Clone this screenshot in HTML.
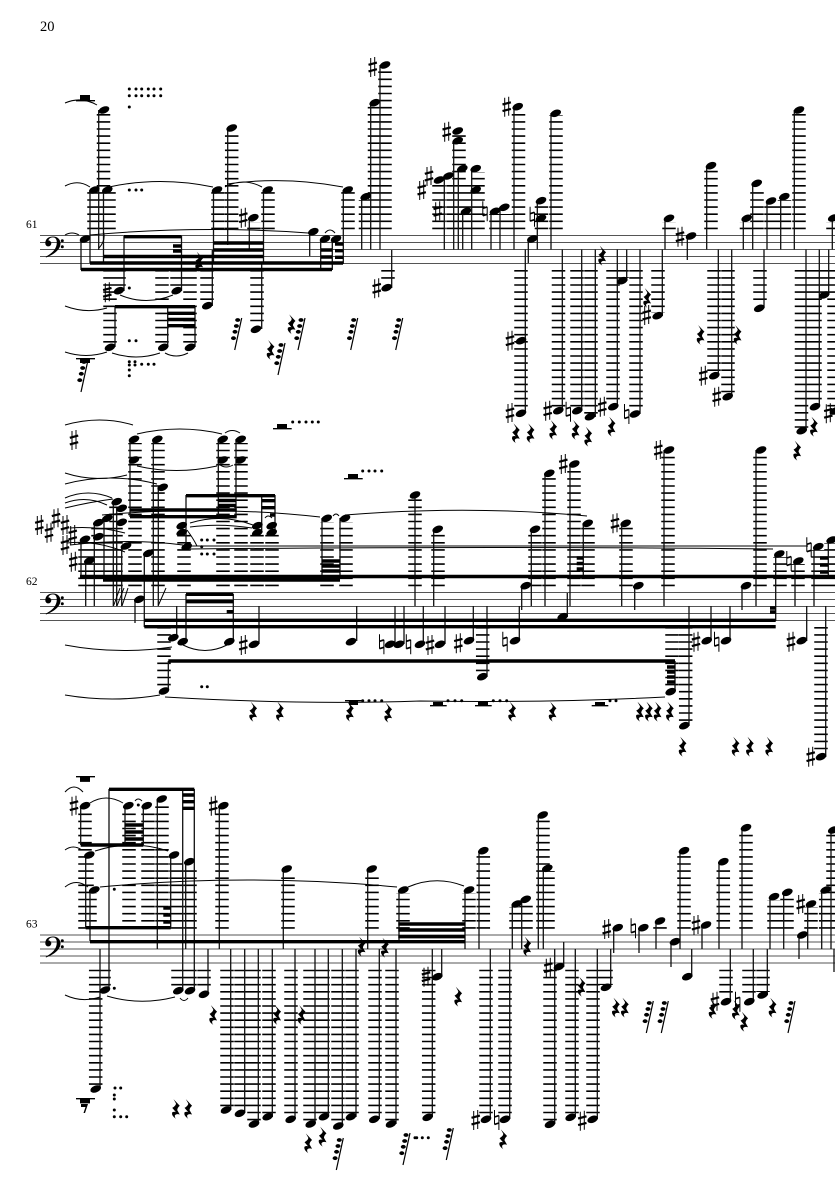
<!DOCTYPE html>
<html><head><meta charset="utf-8"><style>
html,body{margin:0;padding:0;background:#fff}
svg{display:block}
.st{stroke:#555;stroke-width:1;fill:none}
.l{stroke:#000;stroke-width:13.5;stroke-dasharray:1.6 5.5;fill:none}
.s{stroke:#111;stroke-width:1.3;fill:none}
.b{stroke:#000;stroke-width:3.4;fill:none}
.t{stroke:#000;stroke-width:1;fill:none}
text{font-family:"Liberation Serif",serif;fill:#000}
</style></head><body>
<svg xmlns="http://www.w3.org/2000/svg" width="835" height="1181" viewBox="0 0 835 1181">
<defs>
<ellipse id="h" rx="5.6" ry="3.4" transform="rotate(-22)"/>
<g id="sh"><path d="M-2-9V10M2-10V9" stroke="#000" stroke-width="1"/><path d="M-4.200-2.200L4.200-4.400M-4.200 4.400L4.200 2.200" stroke="#000" stroke-width="2.200"/></g>
<g id="na"><path d="M-2.200-10V4.500M2.200-4.500V10" stroke="#000" stroke-width="1"/><path d="M-2.200-3L2.200-4.400M-2.200 4.400L2.200 3" stroke="#000" stroke-width="1.700"/></g>
<path id="r" transform="scale(1.25 1.1)" d="M-2-9L3-3Q1-1 1 1L3 5Q0 4-1 6Q-1 8 0 9Q-4 6-3 3Q-1 2 0 3L-3-1Q0-3 0-5Z"/>
<g id="k"><path d="M-2 17L5-15" stroke="#000" stroke-width="1.200"/><ellipse cx="1" cy="-13" rx="2.500" ry="1.900"/><ellipse cx="-.3" cy="-7" rx="2.500" ry="1.900"/><ellipse cx="-1.700" cy="-1.200" rx="2.500" ry="1.900"/><ellipse cx="-3.200" cy="5.200" rx="2.500" ry="1.900"/></g>
<g id="c"><path d="M.3 8.300C.3 3.500 4 1.500 8 1.500C12.500 1.500 15.500 4.500 15.500 8.500C15.500 14.500 9 19.500 1 22.500L.7 21.700C7 18.500 11.800 14 11.800 7.500C11.800 4 10.300 2.400 7.800 2.400C5.500 2.400 3.800 3.800 3.400 5.400A3 3 0 1 1 .3 8.300Z"/><circle cx="17.300" cy="5.700" r="1.500"/><circle cx="17.300" cy="11.700" r="1.500"/></g>
</defs>

<text x="40" y="31" font-size="14.5">20</text>
<text x="26" y="228" font-size="11.5">61</text>
<text x="26" y="585" font-size="11.5">62</text>
<text x="26" y="927.5" font-size="11.5">63</text>

<path class="st" d="M40 235.5H835M40 242.5H835M40 249.5H835M40 256.5H835M40 263.5H835M40 592.5H835M40 599.5H835M40 606.5H835M40 613.5H835M40 620.5H835M40 935H835M40 942H835M40 949H835M40 956H835M40 963H835"/>
<use href="#c" x="45" y="235"/><use href="#c" x="45" y="592"/><use href="#c" x="45" y="935"/>

<!-- ledgers system 1 -->
<path class="l" d="M103.5 229.2V112M94 229.2V192M109 229.2V192M218 229.2V192M231.7 229.2V132M268 229.2V192M348 229.2V192M365.5 229.2V200M374.5 229.2V106M385 229.2V70M254 229.2V222
M119 270V288M110 270V345M162 270V345M177 270V288M190 270V345M207 270V302M257 270V325M388 270V284
M439 229.2V183M453 229.2V183M466 229.2V183M478 229.2V172M459 229.2V135M496 229.2V214M506 229.2V214M518.5 229.2V110M556 229.2V115M541.5 229.2V205M669 229.2V222M711 229.2V168M746.5 229.2V222M757 229.2V187M771 229.2V204M784.5 229.2V200M799 229.2V113M833 229.2V222
M521 270V411M558.5 270V408M577 270V408M591 270V414M613 270V404M622 270V278M636 270V411M658 270V313M714 270V373M728 270V394M760 270V305M801.5 270V428M815 270V404M824 270V293M834 270V410"/>
<!-- ledgers system 2 -->
<path class="l" d="M85 586.2V541M98 586.2V526M111 586.2V526M116 586.2V506M135 586.2V443M158 586.2V443M184 586.2V530M223 586.2V443M241 586.2V443M257 586.2V530M272 586.2V530M327 586.2V522M346 586.2V522M415 586.2V498M438 586.2V532M535 586.2V532M549 586.2V476M574 586.2V467M588 586.2V526M626 586.2V526M668 586.2V453M760 586.2V453M780 586.2V557M798 586.2V564M818 586.2V550M831 586.2V543
M164 627V688M482.7 627V673M672 627V688M685.7 627V723M821 627V753"/>
<!-- ledgers system 3 -->
<path class="l" d="M87 928.7V860M90 928.7V893M85 928.7V809M129 928.7V809M148 928.7V809M162 928.7V802M176 928.7V858M190 928.7V865M222 928.7V809M288 928.7V872M372 928.7V872M403 928.7V893M469 928.7V893M483.3 928.7V854M516 928.7V907M526 928.7V903M543 928.7V818M548 928.7V871M660 928.7V924M684 928.7V854M723.3 928.7V865M746 928.7V831M774 928.7V900M787 928.7V896M811 928.7V907M825.7 928.7V893M833 928.7V833
M104 969.7V988M95.7 969.7V1086M178 969.7V988M190 969.7V988M204 969.7V991M227 969.7V1107M241 969.7V1110M254 969.7V1121M269 969.7V1114M291 969.7V1116M310 969.7V1121M323 969.7V1114M338 969.7V1123M352 969.7V1114M375 969.7V1116M392 969.7V1121M428.7 969.7V1114M486 969.7V1116M505 969.7V1116M550 969.7V1121M572 969.7V1114M593 969.7V1116M606 969.7V985M726 969.7V998M749 969.7V998M763 969.7V992"/>

<!-- stems -->
<path class="s" d="M98.7 110V250M90 190V263M103.5 190V263M213.5 190V262M227.7 128V245M263.5 190V262M343.3 190V264M361.7 197V249.5M370.7 103V249.5M380 65V249.5M81 239V270M309.7 232V256M320.7 239V270M332.3 239V270M249.3 218V250M124 236V291M181.5 236V291M115 307V347M167.7 307V347M195 307V347M212.3 250V306M261.7 262V329M391.7 250V288
M444.3 178V249.5M453.7 140V249.5M458.3 169V249.5M462.7 211V249.5M471.7 169V249.5M491 211V249.5M500 207V249.5M514 107V249.5M537.3 201V249.5M551 113V249.5M528.3 239V263M525.3 249.5V413M562.3 249.5V411M581.7 249.5V411M595.3 249.5V417M617.3 249.5V407M626.7 249.5V281M640 249.5V414M662.3 249.5V316M665 218V249.5M687.3 236V260M706.7 166V249.5M743.3 218V249.5M752.7 183V249.5M767 201V249.5M780.7 197V249.5M794.3 110V249.5M832.3 218V249.5M718.3 249.5V376M731.7 249.5V397M764 249.5V308M806 249.5V431M819.3 249.5V407M828.7 249.5V295
M130 439V517M153.3 439V606M158.3 487V606M218.3 439V517M236 439V517M186 495V546M275 495V530M261.7 495V530M81 539V577M85.7 560V606M94.3 522V606M104 518V577M113.3 501V606M116.7 508V606M121.7 546V606M135 599V623M144.3 553V627M176.7 606V637M186 594V641M233.3 594V641M259 606V644M356.7 606V641M395 606V644M404 606V644M168.3 661V690M675 661V690M322 518V577M340 518V577M415 495V606
M433.7 529V606M531.3 529V606M545 473V606M570 464V606M583.3 523V576M621.7 523V606M664 450V606M756 450V606M775.7 554V621M795 561V606M814 547V606M828.3 540V577M521.7 586V610M567.3 593V617M634.7 586V610M742 586V610M423.3 606V644M445 606V644M473.3 606V641M487 606V677M519.3 606V641M711 606V641M730 606V641M806.7 606V641M825.7 606V757M689 606V726
M80.7 806V845M125 806V845M143.3 806V845M157.3 799V949M109 789V990M182.7 789V991M194.3 789V991M85.7 855V927M170.7 855V927M185.7 862V949M90 890V941M283.3 869V949M367.7 869V949M399 890V941M219.3 806V949M100 949V1089M208 949V994M230.7 949V1110M244.7 949V1113M258.3 949V1124M272.3 949V1117M295 949V1119M315 949V1124M328.3 949V1117M342.3 949V1126M356 949V1117M379.3 949V1119M396 949V1124
M465 890V949M479 851V949M512.3 904V949M521.7 899V949M538.3 815V949M543.3 868V949M563.7 942V967M554.7 949V1124M441.7 949V977M432.3 949V1117M490.3 949V1119M509.7 949V1119M575.3 949V1117M597.3 949V1119M610.7 949V987M613.7 928V953M639 928V953M656 921V949M671 942V967M680 851V949M702 925V949M719 862V949M742 828V949M770 897V949M783.7 892V949M807.7 904V949M799 935V959M821.7 890V949M831 830V949M691.7 949V977M730.3 949V1002M753.3 949V1002M767.3 949V995M834 949V972"/>

<!-- beams -->
<path class="b" d="M81 269.5H332M90 263H343M103.5 256.5H263.5M124 236.7H181.5M173 246H181.5M173 251H181.5M115 306.7H195M167.7 313.3H195M167.7 319.5H195M167.7 325.7H195M213.5 243H263.5M213.5 250H263.5M335 244H343M335 250.7H343M335 257.3H343M321 250H332M321 257H332M321 263H332
M130 516.7H236.7M130 510H236.7M218 495.5H236M218 500.5H236M218 505.5H236M186 495.7H275M261.7 500.7H275M261.7 507.7H275M270 515H275M80 576.5H835M103 580H340M321.7 561H340M321.7 566H340M321.7 571H340M144.3 620.3H775.7M144.3 626.7H775.7M186 594.3H233.3M186 601.7H233.3M226.7 611.7H233.3M168.3 661H675M667 667H675M667 672H675M667 677H675M667 682H675M576.7 558H583.3M576.7 563.5H583.3M576.7 569H583.3M770 612H775.7M770 608H775.7M820 558H828M820 565H828M820 572H828
M125 825H143.3M125 832H143.3M125 839H143.3M80.7 845H143.3M109 789.3H194.3M182.7 795H194.3M182.7 801.7H194.3M182.7 808.3H194.3M85.7 927.7H170.7M163.3 908H170.7M163.3 915H170.7M163.3 922H170.7M90 941.7H465M398.3 924H465M398.3 930H465M398.3 936.7H465"/>

<!-- slurs -->
<path class="t" d="M65 103Q81 96 97 105M65 186Q78 179 90 187M109 187Q160 176 213 187M225 187Q243 177 262 187M227 184Q285 176 343 187M65 235Q72 231 79 235M90 235Q200 225 308 233M325 233Q330 227 335 233M120 295Q146 306 173 295M65 306Q86 314 107 308M112 353Q136 361 160 353M165 353Q176 359 188 353M65 352Q86 359 107 352
M65 425Q100 415 133 425M137 434Q180 424 222 434M225 433Q232 428 240 433M137 466Q176 475 217 466M220 465Q226 469 233 465M65 473Q96 483 127 475M65 484Q110 472 157 484M65 498Q88 488 112 498M65 503Q86 495 107 505M65 508Q90 502 113 499M102 515Q210 505 320 517M345 515Q470 505 587 516M70 528Q98 526 125 533M67 543Q95 540 125 552M70 545Q130 538 183 545M190 523Q222 513 253 525M190 527Q220 523 252 528M190 546Q500 546 808 546M190 549Q500 546 773 549M265 518Q268 514 272 518M333 516Q336 512 339 516M65 645Q118 655 172 647M183 645Q205 656 227 645M65 695Q112 703 160 695M165 697Q300 705 420 701Q550 703 665 697
M65 792Q74 782 83 792M90 803Q106 793 123 803M135 801Q138 797 142 801M65 850Q73 844 82 850M95 851Q132 839 168 851M65 887Q76 878 88 887M100 887Q248 873 397 887M408 887Q436 875 464 886M65 995Q82 1003 100 997M107 996Q140 1006 175 997M180 998Q184 1003 188 998"/>
<path d="M103.5 232Q106 240 99 248M187 530Q193 538 197 546M113.5 606L120 588M117 606L124 588M122 606L128 588M158.5 605L166 588" stroke="#000" fill="none"/>

<!-- note heads -->
<g>
<use href="#h" x="104" y="110"/><use href="#h" x="94.3" y="190"/><use href="#h" x="107.3" y="190"/><use href="#h" x="217" y="190"/><use href="#h" x="231.7" y="128"/><use href="#h" x="267.7" y="190"/><use href="#h" x="347.7" y="190"/><use href="#h" x="365.7" y="196.7"/><use href="#h" x="374.7" y="102.7"/><use href="#h" x="385" y="65"/><use href="#h" x="85" y="239"/><use href="#h" x="313.3" y="231.7"/><use href="#h" x="325" y="239"/><use href="#h" x="336" y="239"/><use href="#h" x="253.3" y="217.7"/><use href="#h" x="119" y="290.7"/><use href="#h" x="176.7" y="290.7"/><use href="#h" x="110" y="347.3"/><use href="#h" x="163.3" y="347.3"/><use href="#h" x="190" y="347.3"/><use href="#h" x="207.3" y="305.7"/><use href="#h" x="256" y="329.3"/><use href="#h" x="386.7" y="287.7"/>
<use href="#h" x="439" y="180"/><use href="#h" x="448.3" y="176"/><use href="#h" x="457.7" y="131"/><use href="#h" x="457.7" y="140.7"/><use href="#h" x="462.3" y="168.7"/><use href="#h" x="475.7" y="168.7"/><use href="#h" x="475.7" y="190"/><use href="#h" x="466" y="211.3"/><use href="#h" x="495" y="211.3"/><use href="#h" x="504.3" y="207.3"/><use href="#h" x="517.7" y="106.7"/><use href="#h" x="555.7" y="113.3"/><use href="#h" x="541" y="200.7"/><use href="#h" x="541" y="218.3"/><use href="#h" x="532.3" y="239"/><use href="#h" x="521" y="340.7"/><use href="#h" x="521" y="413.3"/><use href="#h" x="558.3" y="410.7"/><use href="#h" x="577.3" y="410.7"/><use href="#h" x="590" y="416.7"/><use href="#h" x="613.3" y="406.7"/><use href="#h" x="622.3" y="280.7"/><use href="#h" x="635" y="414"/><use href="#h" x="657.7" y="315.7"/><use href="#h" x="669" y="218.3"/><use href="#h" x="691" y="236"/><use href="#h" x="711" y="165.7"/><use href="#h" x="746.7" y="218.3"/><use href="#h" x="756.7" y="183.3"/><use href="#h" x="771" y="201"/><use href="#h" x="784.3" y="196.7"/><use href="#h" x="799" y="110"/><use href="#h" x="833.3" y="218"/><use href="#h" x="714.3" y="375.7"/><use href="#h" x="727.7" y="396.7"/><use href="#h" x="759.3" y="308.3"/><use href="#h" x="801.7" y="430.7"/><use href="#h" x="815" y="406.7"/><use href="#h" x="824.3" y="295"/><use href="#h" x="835" y="411"/>
<use href="#h" x="134" y="439.3"/><use href="#h" x="157.3" y="439.3"/><use href="#h" x="222.7" y="439.3"/><use href="#h" x="240.7" y="439.3"/><use href="#h" x="134" y="460"/><use href="#h" x="222.7" y="460"/><use href="#h" x="240.7" y="460"/><use href="#h" x="162.7" y="487.3"/><use href="#h" x="116.7" y="501.7"/><use href="#h" x="121.7" y="508.3"/><use href="#h" x="121.7" y="522.3"/><use href="#h" x="98.3" y="522.7"/><use href="#h" x="107.3" y="518.3"/><use href="#h" x="85" y="539.3"/><use href="#h" x="98.3" y="536.7"/><use href="#h" x="89.3" y="560.7"/><use href="#h" x="126" y="546"/><use href="#h" x="148.3" y="553.3"/><use href="#h" x="186.7" y="546.7"/><use href="#h" x="181.7" y="525.7"/><use href="#h" x="181.7" y="532.7"/><use href="#h" x="257.3" y="525.7"/><use href="#h" x="257.3" y="532.7"/><use href="#h" x="271.7" y="525.7"/><use href="#h" x="271.7" y="532.7"/><use href="#h" x="326.7" y="518.3"/><use href="#h" x="345" y="518.3"/><use href="#h" x="415" y="495"/><use href="#h" x="139.3" y="599.3"/><use href="#h" x="173.3" y="637.7"/><use href="#h" x="182.7" y="641.7"/><use href="#h" x="229.3" y="641.7"/><use href="#h" x="254" y="644.3"/><use href="#h" x="351" y="641.7"/><use href="#h" x="390" y="644.3"/><use href="#h" x="399" y="644.3"/><use href="#h" x="420" y="644.3"/><use href="#h" x="164" y="691"/><use href="#h" x="437.7" y="529.3"/><use href="#h" x="535" y="529.3"/><use href="#h" x="549.3" y="473.3"/><use href="#h" x="574.3" y="464"/><use href="#h" x="587.7" y="523.3"/><use href="#h" x="625.7" y="523.3"/><use href="#h" x="669" y="450"/><use href="#h" x="761" y="450"/><use href="#h" x="779.3" y="554"/><use href="#h" x="798.3" y="561"/><use href="#h" x="818.3" y="546.7"/><use href="#h" x="831.7" y="540"/><use href="#h" x="525.7" y="585.7"/><use href="#h" x="562.7" y="616.7"/><use href="#h" x="638.3" y="585.7"/><use href="#h" x="746" y="585.7"/><use href="#h" x="440" y="644.3"/><use href="#h" x="469" y="640.7"/><use href="#h" x="482.3" y="676.7"/><use href="#h" x="515" y="640.7"/><use href="#h" x="706.7" y="640.7"/><use href="#h" x="726" y="640.7"/><use href="#h" x="801.7" y="640.7"/><use href="#h" x="821" y="756.7"/><use href="#h" x="684.3" y="725.7"/><use href="#h" x="670.7" y="691.7"/>
<use href="#h" x="85" y="805.7"/><use href="#h" x="128.3" y="805.7"/><use href="#h" x="146.7" y="805.7"/><use href="#h" x="161.7" y="799"/><use href="#h" x="89.3" y="855"/><use href="#h" x="174" y="855"/><use href="#h" x="189.3" y="861.7"/><use href="#h" x="94.3" y="890"/><use href="#h" x="286.7" y="869"/><use href="#h" x="371.7" y="869"/><use href="#h" x="403.3" y="890"/><use href="#h" x="223.3" y="805.7"/><use href="#h" x="105" y="990"/><use href="#h" x="178.3" y="990.7"/><use href="#h" x="190" y="990.7"/><use href="#h" x="95.7" y="1089"/><use href="#h" x="204" y="994.3"/><use href="#h" x="226" y="1110"/><use href="#h" x="240" y="1113.3"/><use href="#h" x="254" y="1124"/><use href="#h" x="267.7" y="1116.7"/><use href="#h" x="290.7" y="1119.3"/><use href="#h" x="310.7" y="1124"/><use href="#h" x="324" y="1116.7"/><use href="#h" x="338.3" y="1126"/><use href="#h" x="351" y="1116.7"/><use href="#h" x="374.3" y="1119.3"/><use href="#h" x="391" y="1124"/>
<use href="#h" x="469" y="890"/><use href="#h" x="483.3" y="850.7"/><use href="#h" x="516.7" y="904"/><use href="#h" x="525.7" y="899.3"/><use href="#h" x="542.7" y="815"/><use href="#h" x="547.3" y="868.3"/><use href="#h" x="559" y="966.7"/><use href="#h" x="550" y="1124.3"/><use href="#h" x="437.3" y="976.7"/><use href="#h" x="427.7" y="1117.3"/><use href="#h" x="486" y="1119.3"/><use href="#h" x="505" y="1119.3"/><use href="#h" x="570.7" y="1117.3"/><use href="#h" x="592.7" y="1119.3"/><use href="#h" x="606" y="987.3"/><use href="#h" x="617.7" y="927.7"/><use href="#h" x="643.3" y="927.7"/><use href="#h" x="660" y="921"/><use href="#h" x="675" y="941.7"/><use href="#h" x="684" y="850.7"/><use href="#h" x="706" y="925"/><use href="#h" x="723.3" y="861.7"/><use href="#h" x="746" y="827.7"/><use href="#h" x="774" y="896.7"/><use href="#h" x="787.3" y="892.3"/><use href="#h" x="811" y="904"/><use href="#h" x="802.3" y="935"/><use href="#h" x="825.7" y="890"/><use href="#h" x="833.3" y="830"/><use href="#h" x="687.3" y="976.7"/><use href="#h" x="726" y="1001.7"/><use href="#h" x="749.3" y="1001.7"/><use href="#h" x="762.7" y="995"/>
</g>

<!-- sharps -->
<g>
<use href="#sh" x="372.7" y="67"/><use href="#sh" x="243.3" y="217.7"/><use href="#sh" x="107.3" y="292.3"/><use href="#sh" x="376.7" y="288.3"/><use href="#sh" x="446.7" y="131.7"/><use href="#sh" x="429" y="176"/><use href="#sh" x="421.7" y="190"/><use href="#sh" x="437.7" y="211.3"/><use href="#sh" x="506.7" y="106.7"/><use href="#sh" x="510" y="340.7"/><use href="#sh" x="510" y="413"/><use href="#sh" x="547.7" y="410.7"/><use href="#sh" x="602.3" y="406.7"/><use href="#sh" x="646.7" y="315"/><use href="#sh" x="680" y="236.7"/><use href="#sh" x="703.3" y="375.7"/><use href="#sh" x="716.7" y="396.7"/><use href="#sh" x="828.3" y="413.3"/>
<use href="#sh" x="74" y="440"/><use href="#sh" x="39.3" y="525"/><use href="#sh" x="49" y="532.700"/><use href="#sh" x="56" y="518.300"/><use href="#sh" x="65" y="525"/><use href="#sh" x="65" y="545"/><use href="#sh" x="72.700" y="535"/><use href="#sh" x="73.300" y="561.700"/><use href="#sh" x="243.3" y="645"/><use href="#sh" x="430" y="645"/><use href="#sh" x="458.3" y="643.3"/><use href="#sh" x="563.3" y="464"/><use href="#sh" x="615" y="523.3"/><use href="#sh" x="658.3" y="450"/><use href="#sh" x="696" y="641.7"/><use href="#sh" x="791" y="641.7"/><use href="#sh" x="810.7" y="756.7"/>
<use href="#sh" x="74" y="805.7"/><use href="#sh" x="213.3" y="805.7"/><use href="#sh" x="426" y="976.7"/><use href="#sh" x="548.3" y="967.7"/><use href="#sh" x="475.7" y="1120"/><use href="#sh" x="582.3" y="1120.7"/><use href="#sh" x="606.7" y="929"/><use href="#sh" x="696" y="925"/><use href="#sh" x="800.7" y="904"/><use href="#sh" x="715" y="1001.7"/>
</g>
<!-- naturals -->
<g>
<use href="#na" x="485" y="211.3"/><use href="#na" x="532.3" y="216.7"/><use href="#na" x="568.3" y="411.7"/><use href="#na" x="626.7" y="414"/><use href="#na" x="381.7" y="644.3"/><use href="#na" x="505" y="641.7"/><use href="#na" x="716.7" y="641.7"/><use href="#na" x="789" y="561"/><use href="#na" x="809" y="547.3"/><use href="#na" x="408.5" y="644.3"/><use href="#na" x="496.7" y="1120"/><use href="#na" x="633.3" y="928.3"/><use href="#na" x="737.7" y="1001.7"/>
</g>
<!-- quarter rests -->
<g>
<use href="#r" x="199.3" y="261.7"/><use href="#r" x="291.7" y="324.3"/><use href="#r" x="270.7" y="350"/><use href="#r" x="647.3" y="298"/><use href="#r" x="602.3" y="255.7"/><use href="#r" x="700.7" y="335"/><use href="#r" x="737.7" y="335"/><use href="#r" x="814" y="426.7"/><use href="#r" x="516" y="433.3"/><use href="#r" x="530.7" y="433.3"/><use href="#r" x="553.3" y="430"/><use href="#r" x="575.7" y="430"/><use href="#r" x="588.3" y="436.7"/><use href="#r" x="611.7" y="426.7"/><use href="#r" x="797.3" y="450.7"/>
<use href="#r" x="253.3" y="711.7"/><use href="#r" x="280" y="711.7"/><use href="#r" x="350" y="711.7"/><use href="#r" x="388.3" y="712.7"/><use href="#r" x="512.3" y="711.7"/><use href="#r" x="552.7" y="711.7"/><use href="#r" x="640" y="711.7"/><use href="#r" x="649" y="711.7"/><use href="#r" x="657.7" y="711.7"/><use href="#r" x="670" y="711.7"/><use href="#r" x="682.7" y="746.7"/><use href="#r" x="735.7" y="746.7"/><use href="#r" x="750" y="746.7"/><use href="#r" x="769.3" y="746.7"/>
<use href="#r" x="213.3" y="1015"/><use href="#r" x="277.3" y="1015"/><use href="#r" x="301.7" y="1015"/><use href="#r" x="361.7" y="946.7"/><use href="#r" x="385" y="947.7"/><use href="#r" x="176" y="1109"/><use href="#r" x="188.3" y="1109"/><use href="#r" x="308.3" y="1143.3"/><use href="#r" x="322.7" y="1136.7"/><use href="#r" x="458.3" y="996.7"/><use href="#r" x="527.3" y="946.7"/><use href="#r" x="581.7" y="986.7"/><use href="#r" x="616" y="1007.7"/><use href="#r" x="625" y="1007.7"/><use href="#r" x="503.3" y="1139.3"/><use href="#r" x="712.7" y="1009"/><use href="#r" x="736" y="1010"/><use href="#r" x="744.3" y="1021.7"/><use href="#r" x="772.7" y="1007.7"/>
</g>
<!-- short-note rests -->
<g>
<use href="#k" x="236.7" y="333"/><use href="#k" x="300" y="333"/><use href="#k" x="280" y="358"/><use href="#k" x="352.7" y="333"/><use href="#k" x="397.7" y="333"/><use href="#k" x="83" y="375"/><use href="#k" x="338.3" y="1153"/><use href="#k" x="405" y="1148"/><use href="#k" x="448.3" y="1143"/><use href="#k" x="648.3" y="1016"/><use href="#k" x="663.3" y="1016"/><use href="#k" x="790" y="1016"/>
</g>
<!-- whole rests -->
<path d="M80 95h10v5h-10zM76 100h19v1.4h-19zM76 358h19v1.4h-19zM80 359h10v4h-10zM277 424h10v4h-10zM273 428h18.700v1.400h-18.700zM348 474h10v4h-10zM344 478h18.700v1.400h-18.700zM345 700h17v1.400h-17zM349 701h9v4h-9zM433 702h10v3h-10zM430 705h16.700v1.400h-16.700zM478 702h10v3h-10zM475 705h16.700v1.400h-16.700zM595 702h10v3h-10zM591.700 705h16.600v1.400h-16.600zM76 776h19v1.400h-19zM80 777.400h10v4.500h-10zM76 1098h19v1.400h-19zM80 1099.400h10v4h-10zM81 1104h7l-3 9h-1.500l2-6h-4.500z"/>
<!-- dots -->
<g fill="#000">
<circle cx="129.300" cy="89" r="1.500"/><circle cx="136" cy="89" r="1.500"/><circle cx="141.700" cy="89" r="1.500"/><circle cx="148.300" cy="89" r="1.500"/><circle cx="154" cy="89" r="1.500"/><circle cx="160.700" cy="89" r="1.500"/>
<circle cx="129.300" cy="95.700" r="1.500"/><circle cx="136" cy="95.700" r="1.500"/><circle cx="141.700" cy="95.700" r="1.500"/><circle cx="148.300" cy="95.700" r="1.500"/><circle cx="154" cy="95.700" r="1.500"/><circle cx="160.700" cy="95.700" r="1.500"/>
<circle cx="129.300" cy="107" r="1.500"/><circle cx="129.300" cy="190" r="1.500"/><circle cx="136" cy="190" r="1.500"/><circle cx="141.700" cy="190" r="1.500"/><circle cx="129.300" cy="288" r="1.500"/><circle cx="129.300" cy="340.700" r="1.500"/><circle cx="136" cy="340.700" r="1.500"/>
<circle cx="129.300" cy="361.700" r="1.500"/><circle cx="135" cy="361.700" r="1.500"/><circle cx="129.300" cy="365" r="1.500"/><circle cx="135" cy="365" r="1.500"/><circle cx="141.700" cy="364.300" r="1.500"/><circle cx="148.300" cy="364.300" r="1.500"/><circle cx="154" cy="364.300" r="1.500"/><circle cx="129.300" cy="370" r="1.500"/><circle cx="129.300" cy="375.700" r="1.500"/>
<circle cx="292.700" cy="422" r="1.500"/><circle cx="299.300" cy="422" r="1.500"/><circle cx="306" cy="422" r="1.500"/><circle cx="312.300" cy="422" r="1.500"/><circle cx="318.300" cy="422" r="1.500"/>
<circle cx="362.700" cy="471" r="1.500"/><circle cx="369" cy="471" r="1.500"/><circle cx="375" cy="471" r="1.500"/><circle cx="381.700" cy="471" r="1.500"/>
<circle cx="362.700" cy="700.700" r="1.500"/><circle cx="369" cy="700.700" r="1.500"/><circle cx="375" cy="700.700" r="1.500"/><circle cx="381.700" cy="700.700" r="1.500"/>
<circle cx="448" cy="700.700" r="1.500"/><circle cx="455" cy="700.700" r="1.500"/><circle cx="461.700" cy="700.700" r="1.500"/><circle cx="493.300" cy="700.700" r="1.500"/><circle cx="500" cy="700.700" r="1.500"/><circle cx="506.700" cy="700.700" r="1.500"/><circle cx="610" cy="700.700" r="1.500"/><circle cx="616" cy="700.700" r="1.500"/>
<circle cx="201.700" cy="540" r="1.500"/><circle cx="207.300" cy="540" r="1.500"/><circle cx="214" cy="540" r="1.500"/><circle cx="201.700" cy="546.700" r="1.500"/><circle cx="201.700" cy="554" r="1.500"/><circle cx="207.300" cy="554" r="1.500"/><circle cx="214" cy="554" r="1.500"/><circle cx="201.700" cy="686.700" r="1.500"/><circle cx="207.300" cy="686.700" r="1.500"/>
<circle cx="114.300" cy="889.300" r="1.500"/><circle cx="114.300" cy="988.300" r="1.500"/><circle cx="138.300" cy="805" r="1.500"/><circle cx="115" cy="1088" r="1.500"/><circle cx="120.700" cy="1088" r="1.500"/><circle cx="114.300" cy="1095" r="1.500"/><circle cx="114.300" cy="1099" r="1.500"/><circle cx="114.300" cy="1110" r="1.500"/><circle cx="114.300" cy="1116.700" r="1.500"/><circle cx="120.700" cy="1116.700" r="1.500"/><circle cx="126.700" cy="1116.700" r="1.500"/>
<circle cx="415" cy="1137.700" r="1.500"/><circle cx="416.700" cy="1137.700" r="1.500"/><circle cx="422.300" cy="1137.700" r="1.500"/><circle cx="428.300" cy="1137.700" r="1.500"/>
</g>
</svg>
</body></html>
